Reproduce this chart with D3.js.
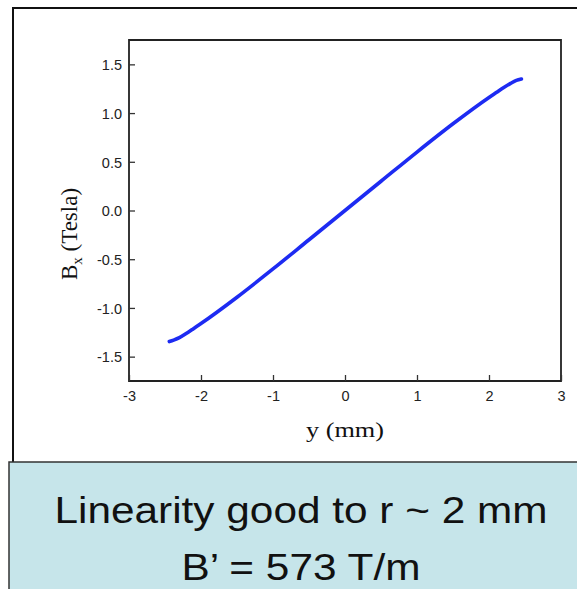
<!DOCTYPE html>
<html>
<head>
<meta charset="utf-8">
<script src="https://cdn.jsdelivr.net/npm/d3@7"></script>
<style>
  html, body { margin: 0; padding: 0; background: #fff; }
  svg { display: block; }
</style>
</head>
<body>
<svg id="chart" width="577" height="589"></svg>
<script>
// Field profile across the gap: transverse position y (mm) vs B_x (Tesla)
const yPos = [-2.44, -2.38, -2.3, -2.2, -2.1, -2.0, -1.5, -1.0, -0.5, 0, 0.5, 1.0, 1.5, 2.0, 2.1, 2.2, 2.3, 2.38, 2.45];
const bx   = [-1.345, -1.33, -1.305, -1.26, -1.21, -1.16, -0.89, -0.60, -0.30, 0, 0.30, 0.60, 0.89, 1.16, 1.21, 1.26, 1.305, 1.335, 1.35];

const xTicks = [-3, -2, -1, 0, 1, 2, 3];
const yTicks = [1.5, 1.0, 0.5, 0.0, -0.5, -1.0, -1.5];
const yTickLabels = ["1.5", "1.0", "0.5", "0.0", "-0.5", "-1.0", "-1.5"];

const noteLines = ["Linearity good to r ~ 2 mm", "B\u2019 = 573 T/m"];

const svg = d3.select("#chart");

// outer panel frame
svg.append("path")
  .attr("d", "M13,470 L13,8 L590,8")
  .attr("fill", "none")
  .attr("stroke", "#111")
  .attr("stroke-width", 2);

const plot = { left: 129, right: 561, top: 40, bottom: 381 };

const x = d3.scaleLinear().domain([-3, 3]).range([plot.left, plot.right]);
const y = d3.scaleLinear().domain([-1.75, 1.75]).range([plot.bottom, plot.top]);

// plot frame
svg.append("path")
  .attr("d", `M${plot.left},${plot.top}H${plot.right}V${plot.bottom}H${plot.left}Z`)
  .attr("fill", "none")
  .attr("stroke", "#222")
  .attr("stroke-width", 1.8);

// inward ticks on bottom and left
const xAxis = d3.axisTop(x).tickValues(xTicks).tickSize(6).tickFormat(d => String(d));
const gx = svg.append("g").attr("transform", `translate(0,${plot.bottom})`).call(xAxis);
gx.select(".domain").remove();
gx.selectAll(".tick line").attr("stroke", "#333").attr("stroke-width", 1.3);
gx.selectAll(".tick text")
  .attr("y", 20)
  .attr("dy", 0)
  .attr("font-family", "Liberation Sans, Arial, sans-serif")
  .attr("font-size", 14.5)
  .attr("fill", "#222");

const yAxis = d3.axisRight(y).tickValues(yTicks).tickSize(6)
  .tickFormat((d, i) => yTickLabels[i]);
const gy = svg.append("g").attr("transform", `translate(${plot.left},0)`).call(yAxis);
gy.select(".domain").remove();
gy.selectAll(".tick line").attr("stroke", "#333").attr("stroke-width", 1.3);
gy.selectAll(".tick text")
  .attr("x", -7)
  .attr("dy", "0.36em")
  .attr("text-anchor", "end")
  .attr("font-family", "Liberation Sans, Arial, sans-serif")
  .attr("font-size", 14.5)
  .attr("fill", "#222");

// the field curve
const pts = yPos.map((v, i) => [v, bx[i]]);
svg.append("path")
  .datum(pts)
  .attr("fill", "none")
  .attr("stroke", "#1d2bf2")
  .attr("stroke-width", 3.6)
  .attr("stroke-linecap", "round")
  .attr("d", d3.line().x(d => x(d[0])).y(d => y(d[1])).curve(d3.curveMonotoneX));

// axis titles
svg.append("text")
  .attr("x", 345).attr("y", 437)
  .attr("text-anchor", "middle")
  .attr("font-family", "Liberation Serif, Times New Roman, serif")
  .attr("font-size", 22)
  .attr("fill", "#111")
  .attr("textLength", 78)
  .attr("lengthAdjust", "spacingAndGlyphs")
  .text("y (mm)");

const yl = svg.append("text")
  .attr("transform", "translate(77,234) rotate(-90)")
  .attr("text-anchor", "middle")
  .attr("font-family", "Liberation Serif, Times New Roman, serif")
  .attr("font-size", 23)
  .attr("fill", "#111");
yl.append("tspan").text("B");
yl.append("tspan").attr("font-size", 15).attr("dy", 5).text("x");
yl.append("tspan").attr("dy", -5).text(" (Tesla)");

// note box
svg.append("rect")
  .attr("x", 9).attr("y", 462)
  .attr("width", 600).attr("height", 200)
  .attr("fill", "#c6e5ea")
  .attr("stroke", "#333")
  .attr("stroke-width", 1.5);

const noteBaselines = [523, 580];
const noteWidths = [493, 239];
noteLines.forEach((t, i) => {
  svg.append("text")
    .attr("x", 301).attr("y", noteBaselines[i])
    .attr("text-anchor", "middle")
    .attr("font-family", "Liberation Sans, Arial, Helvetica, sans-serif")
    .attr("font-size", 36)
    .attr("fill", "#111")
    .attr("textLength", noteWidths[i])
    .attr("lengthAdjust", "spacingAndGlyphs")
    .text(t);
});
</script>
</body>
</html>
